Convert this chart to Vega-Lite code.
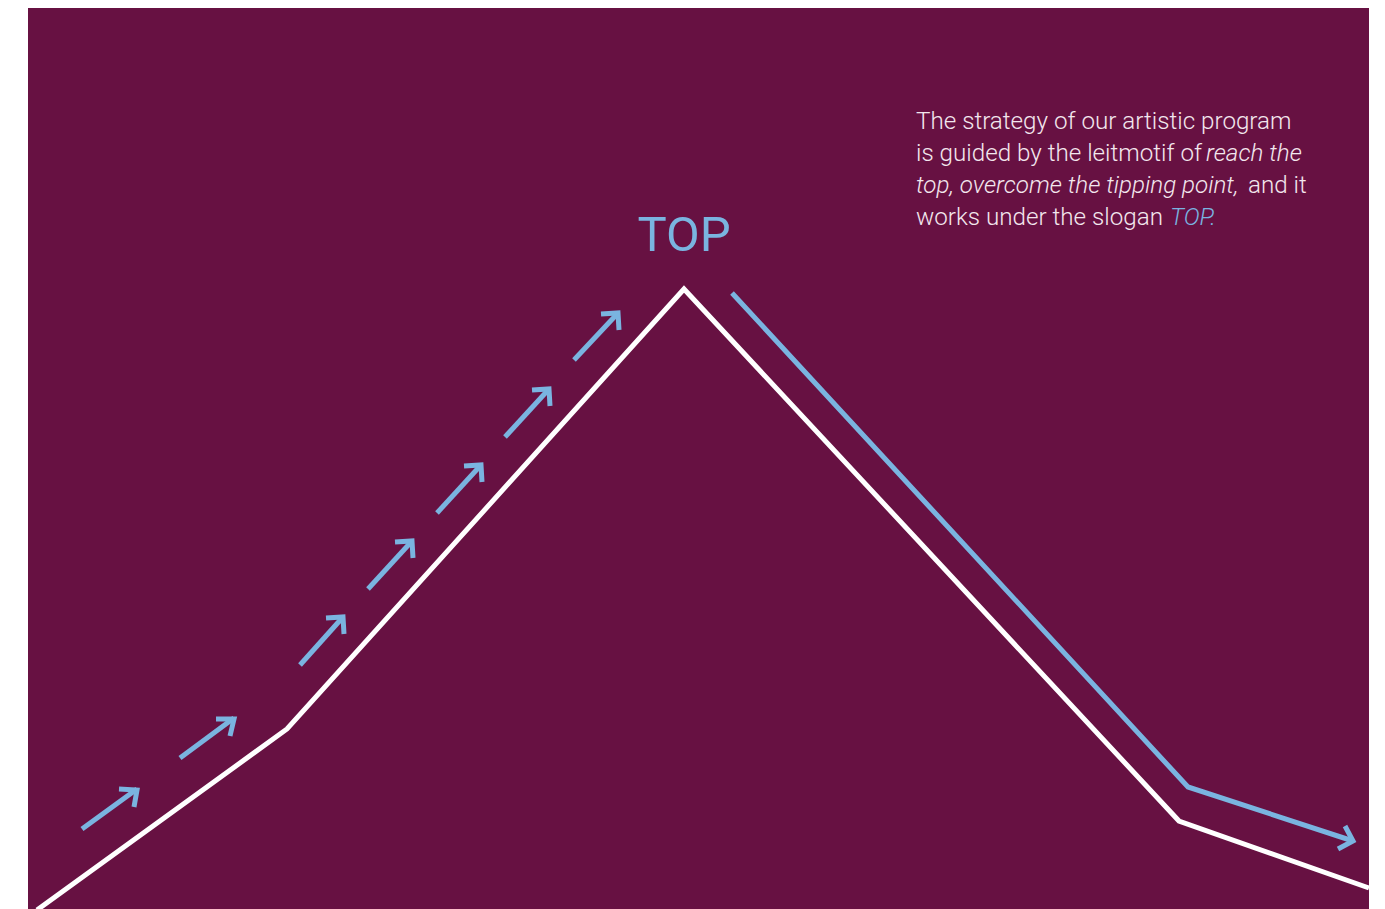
{
  "$schema": "https://vega.github.io/schema/vega-lite/v6.json",
  "autosize": {"type": "none"},
  "width": 1385,
  "height": 909,
  "padding": 0,
  "background": "#ffffff",
  "config": {"view": {"stroke": null}},
  "datasets": {
    "panel": [{"x": 28, "x2": 1369, "y": 8, "y2": 909}],
    "ridge": [
      {"k": 1, "x": 37, "y": 910},
      {"k": 2, "x": 287, "y": 729},
      {"k": 3, "x": 684, "y": 289},
      {"k": 4, "x": 1179, "y": 821},
      {"k": 5, "x": 1369, "y": 888}
    ],
    "descent": [
      {"k": 1, "x": 732, "y": 293},
      {"k": 2, "x": 1188, "y": 787},
      {"k": 3, "x": 1353, "y": 841}
    ],
    "shafts": [
      {"arrow": "a1", "k": 1, "x": 82, "y": 829}, {"arrow": "a1", "k": 2, "x": 137, "y": 789},
      {"arrow": "a2", "k": 1, "x": 180, "y": 758}, {"arrow": "a2", "k": 2, "x": 234, "y": 718},
      {"arrow": "a3", "k": 1, "x": 300, "y": 665}, {"arrow": "a3", "k": 2, "x": 343, "y": 617},
      {"arrow": "a4", "k": 1, "x": 368, "y": 589}, {"arrow": "a4", "k": 2, "x": 412, "y": 541},
      {"arrow": "a5", "k": 1, "x": 437, "y": 513}, {"arrow": "a5", "k": 2, "x": 481, "y": 465},
      {"arrow": "a6", "k": 1, "x": 505, "y": 437}, {"arrow": "a6", "k": 2, "x": 549, "y": 389},
      {"arrow": "a7", "k": 1, "x": 574, "y": 360}, {"arrow": "a7", "k": 2, "x": 618, "y": 313}
    ],
    "heads": [
      {"arrow": "a1", "k": 1, "x": 119, "y": 789}, {"arrow": "a1", "k": 2, "x": 137, "y": 790}, {"arrow": "a1", "k": 3, "x": 134, "y": 807},
      {"arrow": "a2", "k": 1, "x": 216, "y": 719}, {"arrow": "a2", "k": 2, "x": 234, "y": 719}, {"arrow": "a2", "k": 3, "x": 230, "y": 736},
      {"arrow": "a3", "k": 1, "x": 326, "y": 618}, {"arrow": "a3", "k": 2, "x": 343, "y": 617}, {"arrow": "a3", "k": 3, "x": 344, "y": 634},
      {"arrow": "a4", "k": 1, "x": 395, "y": 542}, {"arrow": "a4", "k": 2, "x": 412, "y": 541}, {"arrow": "a4", "k": 3, "x": 413, "y": 558},
      {"arrow": "a5", "k": 1, "x": 464, "y": 466}, {"arrow": "a5", "k": 2, "x": 481, "y": 465}, {"arrow": "a5", "k": 3, "x": 482, "y": 482},
      {"arrow": "a6", "k": 1, "x": 532, "y": 390}, {"arrow": "a6", "k": 2, "x": 549, "y": 389}, {"arrow": "a6", "k": 3, "x": 550, "y": 406},
      {"arrow": "a7", "k": 1, "x": 601, "y": 314}, {"arrow": "a7", "k": 2, "x": 618, "y": 313}, {"arrow": "a7", "k": 3, "x": 619, "y": 330},
      {"arrow": "a8", "k": 1, "x": 1345, "y": 826}, {"arrow": "a8", "k": 2, "x": 1353, "y": 841}, {"arrow": "a8", "k": 3, "x": 1338, "y": 849}
    ],
    "plain": [
      {"x": 916, "y": 129, "t": "The strategy of our artistic program"},
      {"x": 916, "y": 161, "t": "is guided by the leitmotif of"},
      {"x": 1248, "y": 193, "t": "and it"},
      {"x": 916, "y": 225, "t": "works under the slogan"}
    ],
    "italic": [
      {"x": 1206, "y": 161, "t": "reach the"},
      {"x": 916, "y": 193, "t": "top, overcome the tipping point,"}
    ],
    "slogan": [
      {"x": 1170, "y": 225, "t": "TOP."}
    ],
    "title": [
      {"x": 684, "y": 251, "t": "TOP"}
    ]
  },
  "encoding": {
    "x": {"field": "x", "type": "quantitative", "scale": {"domain": [0, 1385], "nice": false, "zero": false}, "axis": null},
    "y": {"field": "y", "type": "quantitative", "scale": {"domain": [0, 909], "nice": false, "zero": false, "reverse": true}, "axis": null}
  },
  "layer": [
    {
      "data": {"name": "panel"},
      "mark": {"type": "rect", "color": "#671142"},
      "encoding": {
        "x2": {"field": "x2"},
        "y2": {"field": "y2"}
      }
    },
    {
      "data": {"name": "ridge"},
      "mark": {"type": "line", "color": "#ffffff", "strokeWidth": 5, "strokeJoin": "miter"},
      "encoding": {"order": {"field": "k"}}
    },
    {
      "data": {"name": "descent"},
      "mark": {"type": "line", "color": "#7ab4e0", "strokeWidth": 5, "strokeJoin": "miter"},
      "encoding": {"order": {"field": "k"}}
    },
    {
      "data": {"name": "shafts"},
      "mark": {"type": "line", "color": "#7ab4e0", "strokeWidth": 5, "strokeCap": "butt"},
      "encoding": {"detail": {"field": "arrow"}, "order": {"field": "k"}}
    },
    {
      "data": {"name": "heads"},
      "mark": {"type": "line", "color": "#7ab4e0", "strokeWidth": 5, "strokeJoin": "miter", "strokeCap": "butt"},
      "encoding": {"detail": {"field": "arrow"}, "order": {"field": "k"}}
    },
    {
      "data": {"name": "plain"},
      "mark": {"type": "text", "align": "left", "baseline": "alphabetic", "font": "Roboto", "fontWeight": 300, "fontSize": 24.2, "color": "#f3e7ee"},
      "encoding": {"text": {"field": "t"}}
    },
    {
      "data": {"name": "italic"},
      "mark": {"type": "text", "align": "left", "baseline": "alphabetic", "font": "Roboto", "fontWeight": 300, "fontStyle": "italic", "fontSize": 24.2, "color": "#f3e7ee"},
      "encoding": {"text": {"field": "t"}}
    },
    {
      "data": {"name": "slogan"},
      "mark": {"type": "text", "align": "left", "baseline": "alphabetic", "font": "Roboto", "fontWeight": 300, "fontStyle": "italic", "fontSize": 24.2, "color": "#7ab4e0"},
      "encoding": {"text": {"field": "t"}}
    },
    {
      "data": {"name": "title"},
      "mark": {"type": "text", "align": "center", "baseline": "alphabetic", "font": "Roboto", "fontWeight": 400, "fontSize": 49, "color": "#7ab4e0"},
      "encoding": {"text": {"field": "t"}}
    }
  ]
}
